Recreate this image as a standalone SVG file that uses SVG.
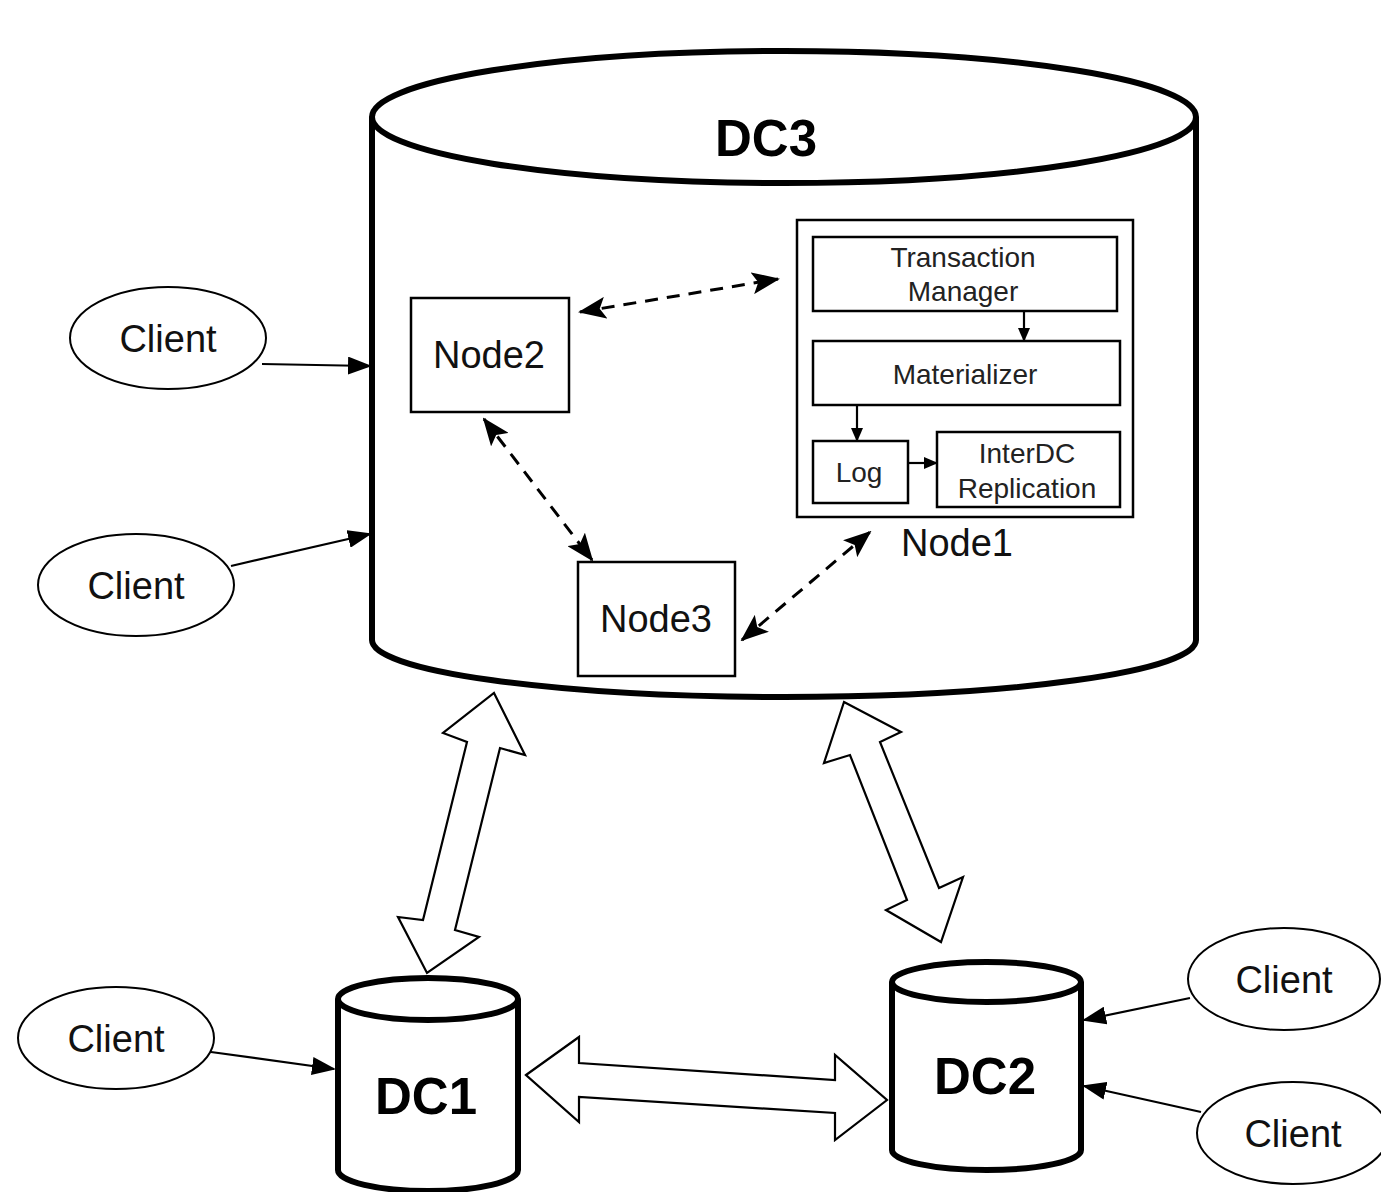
<svg xmlns="http://www.w3.org/2000/svg" width="1381" height="1192" viewBox="0 0 1381 1192">
<style>
.cyl{fill:#fff;stroke:#000;stroke-width:6}
.box{fill:#fff;stroke:#000;stroke-width:2.5}
.cli{fill:#fff;stroke:#000;stroke-width:2}
.t{font-family:"Liberation Sans",Arial,sans-serif;fill:#111;text-anchor:middle}
.big{font-size:38px}
.sm{font-size:28px;fill:#222}
.dc{font-weight:bold;font-size:51px;fill:#000}
.solid{fill:none;stroke:#000;stroke-width:2.2}
.dash{fill:none;stroke:#000;stroke-width:3;stroke-dasharray:13 9}
.fat{fill:#fff;stroke:#000;stroke-width:2.2;stroke-linejoin:miter}
</style>
<defs>
<marker id="ah" markerUnits="userSpaceOnUse" markerWidth="24" markerHeight="18" refX="22" refY="9" orient="auto"><path d="M0,0 L24,9 L0,18 Z" fill="#000"/></marker>
<marker id="ad" markerUnits="userSpaceOnUse" markerWidth="28" markerHeight="22" refX="26" refY="11" orient="auto-start-reverse"><path d="M0,0 L28,11 L0,22 L6,11 Z" fill="#000"/></marker>
<marker id="as" markerUnits="userSpaceOnUse" markerWidth="14" markerHeight="12" refX="13" refY="6" orient="auto"><path d="M0,0 L14,6 L0,12 Z" fill="#000"/></marker>
</defs>

<g id="DC3">
<path class="cyl" d="M372,117 L372,640 A412,57 0 0 0 1196,640 L1196,117 A412,66 0 0 0 372,117 Z"/>
<path class="cyl" d="M372,117 A412,66 0 0 0 1196,117"/>
<text class="t dc" x="766" y="156">DC3</text>
</g>

<g id="DC1">
<path class="cyl" d="M338,999 L338,1170 A90,21 0 0 0 518,1170 L518,999 A90,21 0 0 0 338,999 Z"/>
<path class="cyl" d="M338,999 A90,21 0 0 0 518,999"/>
<text class="t dc" x="426" y="1114">DC1</text>
</g>

<g id="DC2">
<path class="cyl" d="M892,982 L892,1150 A94.5,20 0 0 0 1081,1150 L1081,982 A94.5,20 0 0 0 892,982 Z"/>
<path class="cyl" d="M892,982 A94.5,20 0 0 0 1081,982"/>
<text class="t dc" x="985" y="1094">DC2</text>
</g>

<g id="Node1">
<rect class="box" x="797" y="220" width="336" height="297"/>
<text class="t big" x="957" y="556">Node1</text>
</g>
<g id="TransactionManager">
<rect class="box" x="813" y="237" width="304" height="74"/>
<text class="t sm" x="963" y="267">Transaction</text>
<text class="t sm" x="963" y="301">Manager</text>
</g>
<g id="Materializer">
<rect class="box" x="813" y="341" width="307" height="64"/>
<text class="t sm" x="965" y="384">Materializer</text>
</g>
<g id="Log">
<rect class="box" x="813" y="441" width="95" height="62"/>
<text class="t sm" x="859" y="482">Log</text>
</g>
<g id="InterDCReplication">
<rect class="box" x="937" y="432" width="183" height="75"/>
<text class="t sm" x="1027" y="463">InterDC</text>
<text class="t sm" x="1027" y="498">Replication</text>
</g>

<g id="Node2">
<rect class="box" x="411" y="298" width="158" height="114"/>
<text class="t big" x="489" y="368">Node2</text>
</g>
<g id="Node3">
<rect class="box" x="578" y="562" width="157" height="114"/>
<text class="t big" x="656" y="632">Node3</text>
</g>

<g id="Client1"><ellipse class="cli" cx="168" cy="338" rx="98" ry="51"/><text class="t big" x="168" y="352">Client</text></g>
<g id="Client2"><ellipse class="cli" cx="136" cy="585" rx="98" ry="51"/><text class="t big" x="136" y="599">Client</text></g>
<g id="Client3"><ellipse class="cli" cx="116" cy="1038" rx="98" ry="51"/><text class="t big" x="116" y="1052">Client</text></g>
<g id="Client4"><ellipse class="cli" cx="1284" cy="979" rx="96" ry="51"/><text class="t big" x="1284" y="993">Client</text></g>
<g id="Client5"><ellipse class="cli" cx="1293" cy="1133" rx="96" ry="51"/><text class="t big" x="1293" y="1147">Client</text></g>

<g id="connectors">
<line class="solid" x1="262" y1="364" x2="370" y2="366" marker-end="url(#ah)"/>
<line class="solid" x1="231" y1="566" x2="370" y2="534" marker-end="url(#ah)"/>
<line class="solid" x1="211" y1="1052" x2="334" y2="1069" marker-end="url(#ah)"/>
<line class="solid" x1="1190" y1="998" x2="1084" y2="1020" marker-end="url(#ah)"/>
<line class="solid" x1="1201" y1="1112" x2="1084" y2="1086" marker-end="url(#ah)"/>

<line class="dash" x1="580" y1="312" x2="778" y2="279" marker-start="url(#ad)" marker-end="url(#ad)"/>
<line class="dash" x1="484" y1="419" x2="592" y2="560" marker-start="url(#ad)" marker-end="url(#ad)"/>
<line class="dash" x1="742" y1="640" x2="870" y2="532" marker-start="url(#ad)" marker-end="url(#ad)"/>

<line class="solid" x1="1024" y1="311" x2="1024" y2="341" marker-end="url(#as)"/>
<line class="solid" x1="857" y1="405" x2="857" y2="441" marker-end="url(#as)"/>
<line class="solid" x1="908" y1="463" x2="937" y2="463" marker-end="url(#as)"/>

<polygon class="fat" points="494,693 525,755 500,748 455,930 479,937 427,973 398,917 423,920 467,742 443,733"/>
<polygon class="fat" points="844,702 901,732 880,742 939,888 963,877 941,942 886,910 907,900 850,755 824,763"/>
<polygon class="fat" points="526,1075 579,1037 579,1063 835,1080 835,1055 887,1100 835,1140 835,1113 579,1097 579,1122"/>
</g>
</svg>
